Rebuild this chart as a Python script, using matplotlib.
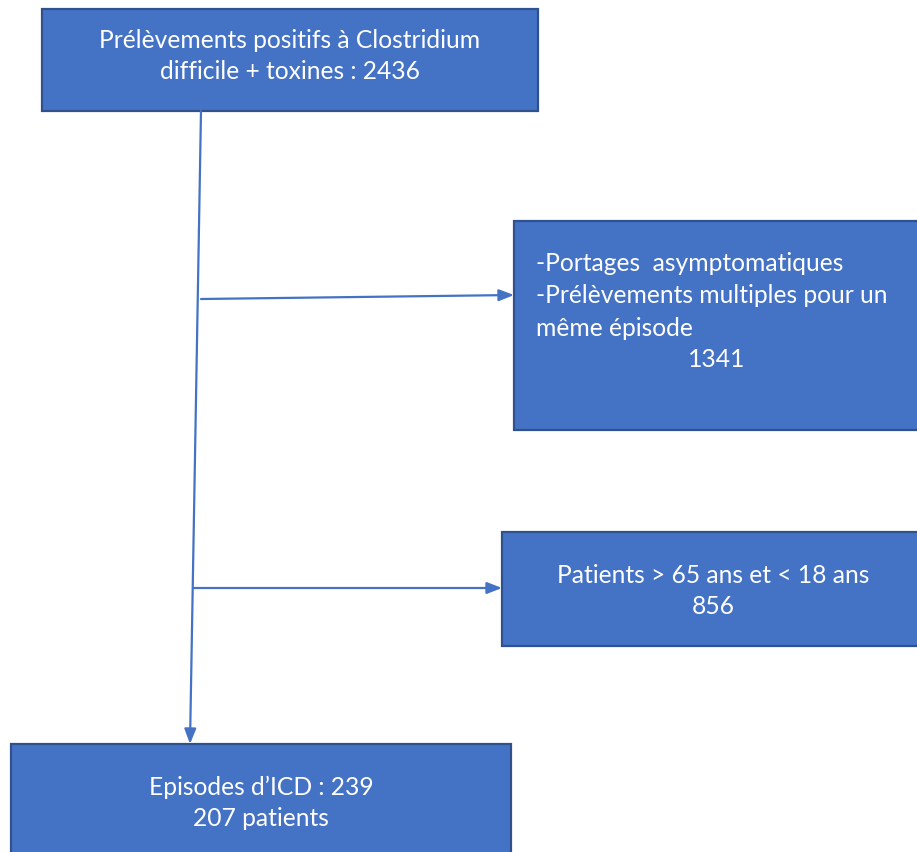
import matplotlib.pyplot as plt
from matplotlib.patches import Rectangle

plt.rcParams["font.family"] = ["Lato", "DejaVu Sans"]

# Flowchart content
total_label = "Prélèvements positifs à Clostridium\ndifficile + toxines : "
total_n = 2436
excl1_lines = ["-Portages  asymptomatiques", "-Prélèvements multiples pour un", "même épisode"]
excl1_n = 1341
excl2_label = "Patients > 65 ans et < 18 ans"
excl2_n = 856
final_episodes = 239
final_patients = 207

fill = "#4472C4"
edge = "#2F528F"
W, H = 917, 853

fig = plt.figure(figsize=(W / 100, H / 100), dpi=100)
ax = fig.add_axes([0, 0, 1, 1])
ax.set_xlim(0, W)
ax.set_ylim(H, 0)
ax.axis("off")


def box(x0, y0, x1, y1):
    ax.add_patch(Rectangle((x0, y0), x1 - x0, y1 - y0, facecolor=fill,
                           edgecolor=edge, linewidth=1.6, zorder=2))


def arrow(x0, y0, x1, y1):
    ax.annotate("", xy=(x1, y1), xytext=(x0, y0),
                arrowprops=dict(arrowstyle="-|>,head_length=0.9,head_width=0.35",
                                color=fill, lw=1.6, shrinkA=0, shrinkB=0),
                zorder=3)


fs = 17.7
ls = 1.45
# top box
box(42, 10, 538, 112)
ax.text(290, 56, f"{total_label}{total_n}", color="white", fontsize=fs,
        ha="center", va="center", linespacing=ls, zorder=4)

# right box 1
box(514, 222, 925, 431)
for i, line in enumerate(excl1_lines):
    ax.text(536, 263 + i * 32.5, line, color="white", fontsize=fs,
            ha="left", va="center", zorder=4)
ax.text(717, 359, str(excl1_n), color="white", fontsize=fs,
        ha="center", va="center", zorder=4)

# right box 2
box(502, 533, 925, 647)
ax.text(713, 591, f"{excl2_label}\n{excl2_n}", color="white", fontsize=fs,
        ha="center", va="center", linespacing=ls, zorder=4)

# bottom box
box(11, 745, 511, 860)
ax.text(261, 803, f"Episodes d\u2019ICD : {final_episodes}\n{final_patients} patients",
        color="white", fontsize=fs, ha="center", va="center",
        linespacing=ls, zorder=4)

# connectors
arrow(201, 112, 190, 745)
arrow(201, 300, 514, 296)
arrow(193, 589, 502, 589)

fig.savefig("out.png", dpi=100, facecolor="white")
